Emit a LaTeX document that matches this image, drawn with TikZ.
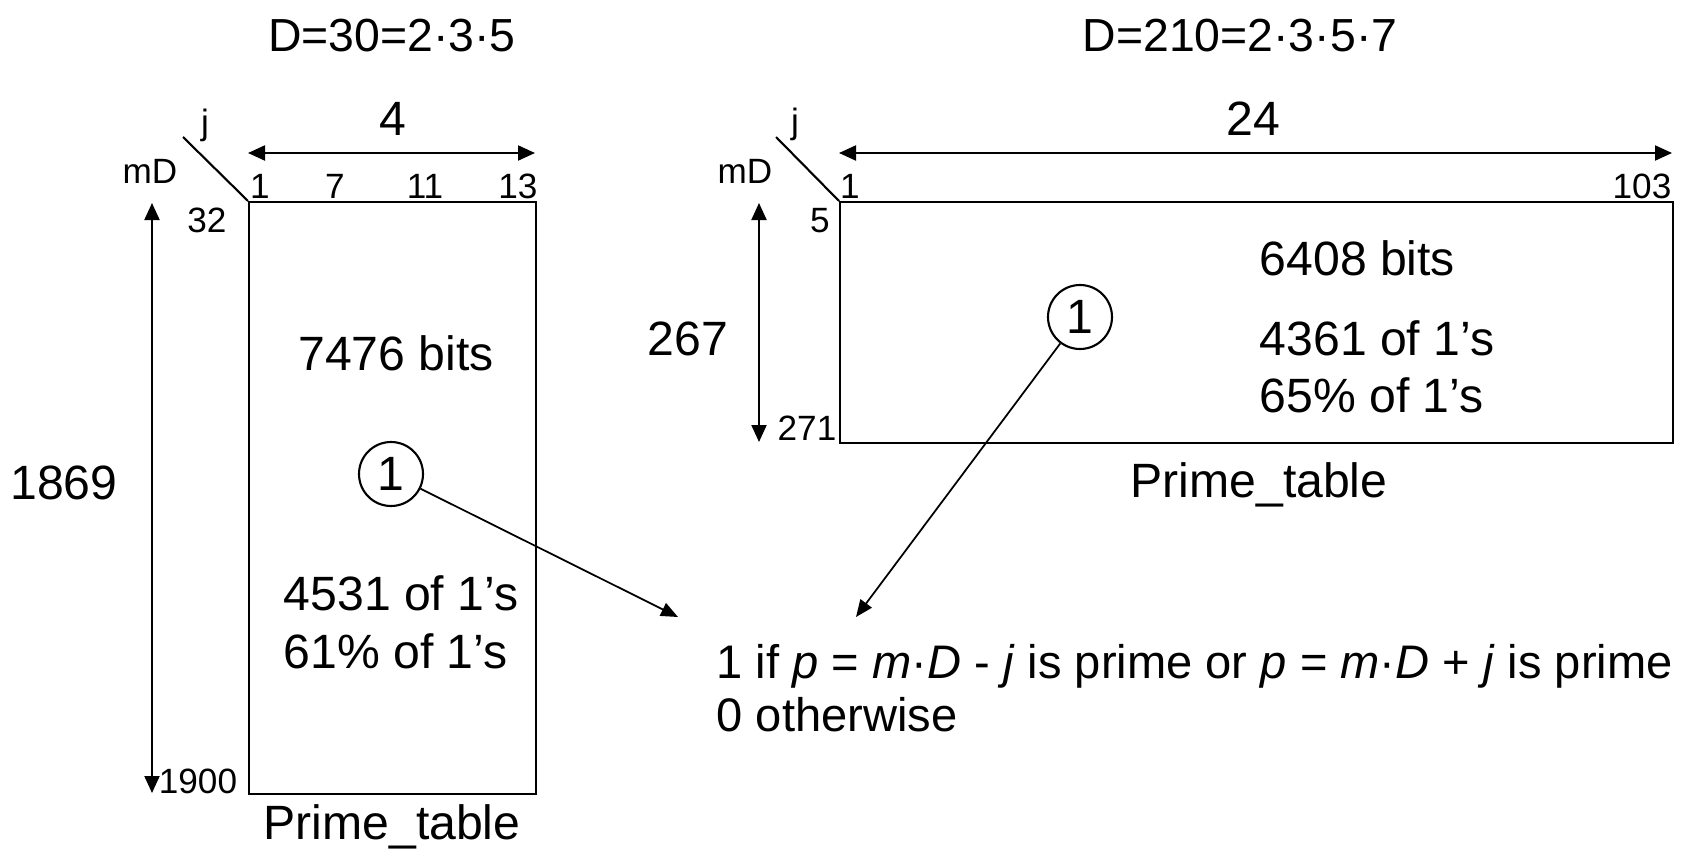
\documentclass[tikz,border=0pt]{standalone}
\usepackage{fontspec}
\setmainfont{Liberation Sans}
\usetikzlibrary{arrows.meta}

\begin{document}
\begin{tikzpicture}[
	big/.style={font=\fontsize{13.7}{16}\selectfont, inner sep=0pt},
	title/.style={font=\fontsize{13.2}{16}\selectfont, inner sep=0pt},
	small/.style={font=\fontsize{10}{12}\selectfont, inner sep=0pt},
	tab/.style={draw, line width=0.6pt, inner sep=0pt, anchor=north west},
	dim/.style={{Triangle[length=1.7mm,width=1.5mm]}-{Triangle[length=1.7mm,width=1.5mm]}, line width=0.6pt},
	ptr/.style={-{Triangle[length=1.7mm,width=1.4mm]}, line width=0.5pt},
	bit/.style={big, draw, circle, minimum size=6.4mm, line width=0.6pt}
	]
		\useasboundingbox (0,0) rectangle (16.83,8.48);
		% table for D=30
		\node[title,anchor=base] (d30) at (3.92,7.96) {D=30=2·3·5};
		\node[tab, minimum width=2.87cm, minimum height=5.92cm] (tab30) at (2.48,6.47) {};
		\coordinate (jm30) at (1.83,7.11);
		\draw[line width=0.6pt] (jm30) -- (tab30.north west);
		\node[small,anchor=base] (j30) at (2.05,7.13) {j};
		\node[small,anchor=base] (mD30) at (1.50,6.65) {mD};
		\coordinate (wa30) at (2.48,6.95);
		\coordinate (wb30) at (5.35,6.95);
		\draw[dim] (wa30) -- (wb30);
		\node[big,anchor=base] (n4) at (3.93,7.12) {4};
		\node[small,anchor=base] (c1) at (2.60,6.49) {1};
		\node[small,anchor=base] (c7) at (3.35,6.49) {7};
		\node[small,anchor=base] (c11) at (4.25,6.49) {11};
		\node[small,anchor=base] (c13) at (5.18,6.49) {13};
		\coordinate (ha30) at (1.52,6.45);
		\coordinate (hb30) at (1.52,0.55);
		\draw[dim] (ha30) -- (hb30);
		\node[small,anchor=base] (m32) at (2.07,6.16) {32};
		\node[small,anchor=base] (m1900) at (1.98,0.55) {1900};
		\node[big,anchor=base] (h1869) at (0.64,3.49) {1869};
		\node[big,anchor=base] (bits30) at (3.96,4.78) {7476 bits};
		\node[bit] (one30) at (3.91,3.74) {1};
		\node[big,anchor=base west] (ones30) at (2.83,2.38) {4531 of 1's};
		\node[big,anchor=base west] (pct30) at (2.83,1.80) {61\% of 1's};
		\node[big,anchor=base] (name30) at (3.92,0.09) {Prime\_table};

		% table for D=210
		\node[title,anchor=base] (d210) at (12.40,7.96) {D=210=2·3·5·7};
		\node[tab, minimum width=8.33cm, minimum height=2.41cm] (tab210) at (8.39,6.47) {};
		\coordinate (jm210) at (7.76,7.11);
		\draw[line width=0.6pt] (jm210) -- (tab210.north west);
		\node[small,anchor=base] (j210) at (7.95,7.14) {j};
		\node[small,anchor=base] (mD210) at (7.45,6.64) {mD};
		\coordinate (wa210) at (8.39,6.95);
		\coordinate (wb210) at (16.72,6.95);
		\draw[dim] (wa210) -- (wb210);
		\node[big,anchor=base] (n24) at (12.53,7.12) {24};
		\node[small,anchor=base] (c1r) at (8.50,6.49) {1};
		\node[small,anchor=base east] (c103) at (16.72,6.49) {103};
		\coordinate (ha210) at (7.59,6.45);
		\coordinate (hb210) at (7.59,4.06);
		\draw[dim] (ha210) -- (hb210);
		\node[small,anchor=base] (m5) at (8.20,6.16) {5};
		\node[small,anchor=base] (m271) at (8.07,4.08) {271};
		\node[big,anchor=base] (h267) at (6.88,4.93) {267};
		\node[big,anchor=base west] (bits210) at (12.59,5.73) {6408 bits};
		\node[big,anchor=base west] (ones210) at (12.59,4.93) {4361 of 1's};
		\node[big,anchor=base west] (pct210) at (12.59,4.36) {65\% of 1's};
		\node[bit] (one210) at (10.80,5.31) {1};
		\node[big,anchor=base] (name210) at (12.59,3.51) {Prime\_table};

		% meaning of one bit
		\node[font=\fontsize{13.4}{16}\selectfont,inner sep=0pt,anchor=base west] (rule1) at (7.16,1.70) {1 if \textit{p} = \textit{m}·\textit{D} - \textit{j} is prime or \textit{p} = \textit{m}·\textit{D} + \textit{j} is prime};
		\node[font=\fontsize{13.4}{16}\selectfont,inner sep=0pt,anchor=base west] (rule0) at (7.16,1.17) {0 otherwise};
		\coordinate (tip30) at (6.78,2.31);
		\coordinate (tip210) at (8.56,2.31);
		\draw[ptr] (one30) -- (tip30);
		\draw[ptr] (one210) -- (tip210);
\end{tikzpicture}
\end{document}
